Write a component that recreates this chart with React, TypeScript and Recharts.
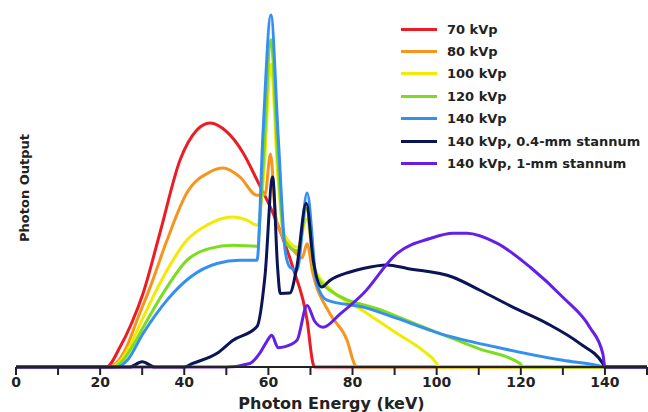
import { LineChart, Line, XAxis, YAxis } from "recharts";

const energyTicks = [0, 10, 20, 30, 40, 50, 60, 70, 80, 90, 100, 110, 120, 130, 140, 150];

// [keV, relative photon output]
const kvp70 = [
  [0, 0], [21.5, 0], [24.7, 5.6], [27.5, 12.5], [30.2, 20.9], [34.2, 38], [39, 58.8],
  [43, 67.3], [46.1, 69.3], [50.2, 66.7], [54, 60.8], [57.3, 53.1], [61.1, 43.7],
  [65.8, 28.3], [69.2, 13.3], [70.6, 1], [71, 0], [150, 0],
];
const kvp80 = [
  [0, 0], [22, 0], [24.5, 2], [26.4, 6], [29, 14], [31.9, 22.7], [35.9, 36], [40.6, 49.4],
  [46.1, 55.4], [49.2, 56.5], [53.2, 54], [57.3, 48.8], [59.2, 49], [60.5, 60.5],
  [61.7, 43], [63, 38], [66, 33], [68, 31], [69.2, 35], [70.5, 27], [74.6, 15.2],
  [78.7, 7.6], [80.6, 0.5], [81, 0], [150, 0],
];
const kvp100 = [
  [0, 0], [22.5, 0], [25, 2], [27.5, 7], [30.2, 14], [35.9, 27.5], [40.6, 36], [45.4, 40.3],
  [51.3, 42.6], [54.9, 41.7], [57.3, 40.3], [58.9, 55], [60.6, 86], [62.2, 55], [63.6, 38],
  [67, 34], [69.1, 42], [71, 28], [74.6, 22.3], [82.5, 16], [90.6, 9.5], [96.7, 4.7],
  [100, 1], [100.5, 0], [150, 0],
];
const kvp120 = [
  [0, 0], [23, 0], [25.5, 2], [28, 6.5], [30.2, 11.2], [35.9, 22.7], [40.6, 30.3],
  [46.1, 33.7], [51.6, 34.6], [57.3, 34.3], [58.8, 58], [60.6, 93], [62.2, 60], [63.8, 36],
  [67, 33], [69.1, 45], [71, 27], [74.6, 21.8], [87.2, 16], [100.8, 9.5], [110, 5.2],
  [119.8, 1], [120.5, 0], [150, 0],
];
const kvp140 = [
  [0, 0], [24, 0], [26.5, 2], [30.2, 9.5], [35.9, 19], [41.4, 25.5], [47.8, 29.4],
  [53.2, 30.3], [57.3, 30.3], [58.7, 66], [60.6, 100], [62.3, 66], [64, 33], [65.1, 28.4],
  [66.8, 27.5], [69.2, 49.4], [71.5, 23.7], [73.9, 19], [82.5, 17], [90.6, 13.8],
  [100.8, 9.5], [114.3, 5.6], [130, 1.9], [138, 0.5], [140, 0], [150, 0],
];
const kvp140Sn04 = [
  [0, 0], [27, 0], [30, 1.5], [33, 0], [40, 0], [42, 1], [47.8, 3.9], [51.6, 7.6],
  [57.3, 11.5], [59.2, 26], [61, 54], [62.2, 28], [62.8, 20.9], [65.1, 21], [66.7, 28],
  [69, 46.5], [70.7, 30], [72.7, 22.7], [74.6, 24.6], [79.4, 27], [82.5, 28], [88.2, 29],
  [93, 28], [103.9, 25.5], [110.3, 21.8], [118.1, 17], [126.2, 12.4], [134, 6.7],
  [139.5, 1], [140, 0], [150, 0],
];
const kvp140Sn1 = [
  [0, 0], [50, 0], [55.6, 1], [58, 4], [59.5, 7], [60.8, 9], [62.3, 5.5], [64, 5.8],
  [66.8, 7.6], [69.2, 17.5], [71, 13], [73, 11.3], [77, 15], [82.5, 20.8], [90.6, 32.3],
  [98.4, 36.5], [103.9, 38], [107.2, 38], [114.3, 35.2], [122.2, 28.4], [130, 19.8],
  [136.4, 11.3], [139.5, 3.8], [140, 0], [150, 0],
];

const series = [
  { key: "kvp70", label: "70 kVp", stroke: "#ec1c24", points: kvp70 },
  { key: "kvp80", label: "80 kVp", stroke: "#f7941d", points: kvp80 },
  { key: "kvp100", label: "100 kVp", stroke: "#f2ea00", points: kvp100 },
  { key: "kvp120", label: "120 kVp", stroke: "#7ddc1f", points: kvp120 },
  { key: "kvp140", label: "140 kVp", stroke: "#3490f0", points: kvp140 },
  { key: "sn04", label: "140 kVp, 0.4-mm stannum", stroke: "#0b1457", points: kvp140Sn04 },
  { key: "sn1", label: "140 kVp, 1-mm stannum", stroke: "#6420e8", points: kvp140Sn1 },
];

const font = "'DejaVu Sans', sans-serif";

// drawn as an overlay so it doesn't eat into the plot area
function LegendBox() {
  return (
    <div
      style={{
        position: "absolute",
        top: 18,
        left: 401,
        fontFamily: font,
        fontWeight: "bold",
        fontSize: 13,
        color: "#222",
      }}
    >
      {series.map((s) => (
        <div key={s.key} style={{ display: "flex", alignItems: "center", height: 22.4 }}>
          <div style={{ width: 36, height: 3, background: s.stroke, marginRight: 10 }} />
          <span style={{ whiteSpace: "nowrap" }}>{s.label}</span>
        </div>
      ))}
    </div>
  );
}

export default function App() {
  return (
    <div style={{ position: "absolute", left: 0, top: 0, width: 648, height: 412, background: "#fff" }}>
      <LineChart width={648} height={412} margin={{ top: 15, right: 1, bottom: 0, left: 16 }}>
        <XAxis
          type="number"
          dataKey="e"
          domain={[0, 150]}
          ticks={energyTicks}
          interval={0}
          height={45}
          stroke="#222"
          tickSize={8}
          axisLine={{ stroke: "#222", strokeWidth: 2 }}
          tickLine={{ stroke: "#222", strokeWidth: 2 }}
          tick={{ fontFamily: font, fontWeight: "bold", fontSize: 14, fill: "#222" }}
          tickFormatter={(v) => (v % 20 === 0 && v < 150 ? String(v) : "")}
          label={{
            value: "Photon Energy (keV)",
            position: "insideBottom",
            offset: 3,
            style: { fontFamily: font, fontWeight: "bold", fontSize: 16, fill: "#222" },
          }}
        />
        <YAxis type="number" domain={[0, 100]} hide width={0} />
        {series.map((s) => (
          <Line
            key={s.key}
            data={s.points.map(([e, v]) => ({ e, v }))}
            dataKey="v"
            name={s.label}
            type="monotone"
            stroke={s.stroke}
            strokeWidth={3}
            dot={false}
            isAnimationActive={false}
          />
        ))}
      </LineChart>
      <LegendBox />
      <div
        style={{
          position: "absolute",
          left: 23.5,
          top: 188,
          transform: "translate(-50%, -50%) rotate(-90deg)",
          fontFamily: font,
          fontWeight: "bold",
          fontSize: 13,
          color: "#222",
          whiteSpace: "nowrap",
        }}
      >
        Photon Output
      </div>
    </div>
  );
}
